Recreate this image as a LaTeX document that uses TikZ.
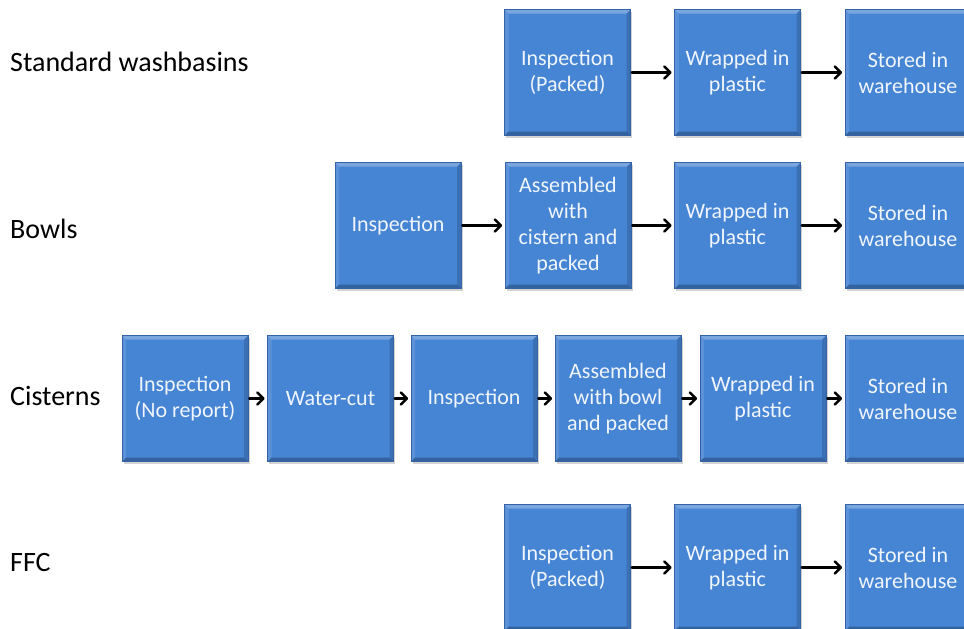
\documentclass[tikz,border=0pt]{standalone}
\usepackage{fontspec}
\setmainfont{Carlito}
\usetikzlibrary{shadows,arrows.meta}
\definecolor{boxblue}{RGB}{70,132,212}
\definecolor{boxedge}{RGB}{52,98,165}
\definecolor{boxtext}{RGB}{240,245,252}
\tikzset{
  stage/.style={minimum width=126pt, minimum height=126pt, inner sep=0pt,
    fill=boxblue, draw=boxedge, line width=0.7pt, text=boxtext, align=center,
    font=\fontsize{22}{26}\selectfont,
    drop shadow={opacity=0.35, shadow xshift=1.5pt, shadow yshift=-2.5pt},
    path picture={
      \fill[white,opacity=0.28] (path picture bounding box.north west) -- (path picture bounding box.north east)
        -- ([xshift=-4pt,yshift=-4pt]path picture bounding box.north east) -- ([xshift=4pt,yshift=-4pt]path picture bounding box.north west) -- cycle;
      \fill[white,opacity=0.12] (path picture bounding box.north west) -- (path picture bounding box.south west)
        -- ([xshift=4pt,yshift=4pt]path picture bounding box.south west) -- ([xshift=4pt,yshift=-4pt]path picture bounding box.north west) -- cycle;
      \fill[black,opacity=0.25] (path picture bounding box.south west) -- (path picture bounding box.south east)
        -- ([xshift=-4pt,yshift=4pt]path picture bounding box.south east) -- ([xshift=4pt,yshift=4pt]path picture bounding box.south west) -- cycle;
      \fill[black,opacity=0.15] (path picture bounding box.north east) -- (path picture bounding box.south east)
        -- ([xshift=-4pt,yshift=4pt]path picture bounding box.south east) -- ([xshift=-4pt,yshift=-4pt]path picture bounding box.north east) -- cycle;
    }},
  rowlabel/.style={anchor=west, inner sep=0pt, font=\fontsize{28}{32}\selectfont},
  flow/.style={draw=black, line width=2.6pt, line cap=round,
    -{Straight Barb[length=6pt,width=12pt,line width=2.6pt,round]},
    shorten <=1pt, shorten >=2.5pt}
}
\begin{document}
\begin{tikzpicture}[x=1pt,y=-1pt]
\useasboundingbox[clip] (0,0) rectangle (964,629);

% row labels
\node[rowlabel] (l1) at (10,62) {Standard washbasins};
\node[rowlabel] (l2) at (10,229) {Bowls};
\node[rowlabel] (l3) at (10,396) {Cisterns};
\node[rowlabel] (l4) at (10,563) {FFC};

% standard washbasins
\node[stage] (a1) at (567.5,72.5) {Inspection\\(Packed)};
\node[stage] (a2) at (737.5,72.5) {Wrapped in\\plastic};
\node[stage] (a3) at (908,72.5) {Stored in\\warehouse};

% bowls
\node[stage] (b1) at (398,225.5) {Inspection};
\node[stage] (b2) at (568,225.5) {Assembled\\with\\cistern and\\packed};
\node[stage] (b3) at (737.5,225.5) {Wrapped in\\plastic};
\node[stage] (b4) at (908,225.5) {Stored in\\warehouse};

% cisterns
\node[stage] (c1) at (185,398.5) {Inspection\\(No report)};
\node[stage] (c2) at (330.5,398.5) {Water-cut};
\node[stage] (c3) at (474,398.5) {Inspection};
\node[stage] (c4) at (618,398.5) {Assembled\\with bowl\\and packed};
\node[stage] (c5) at (763,398.5) {Wrapped in\\plastic};
\node[stage] (c6) at (908,398.5) {Stored in\\warehouse};

% FFC
\node[stage] (d1) at (567.5,567.5) {Inspection\\(Packed)};
\node[stage] (d2) at (737.5,567.5) {Wrapped in\\plastic};
\node[stage] (d3) at (908,567.5) {Stored in\\warehouse};

\draw[flow] (a1) -- (a2);
\draw[flow] (a2) -- (a3);
\draw[flow] (b1) -- (b2);
\draw[flow] (b2) -- (b3);
\draw[flow] (b3) -- (b4);
\draw[flow] (c1) -- (c2);
\draw[flow] (c2) -- (c3);
\draw[flow] (c3) -- (c4);
\draw[flow] (c4) -- (c5);
\draw[flow] (c5) -- (c6);
\draw[flow] (d1) -- (d2);
\draw[flow] (d2) -- (d3);
\end{tikzpicture}
\end{document}
